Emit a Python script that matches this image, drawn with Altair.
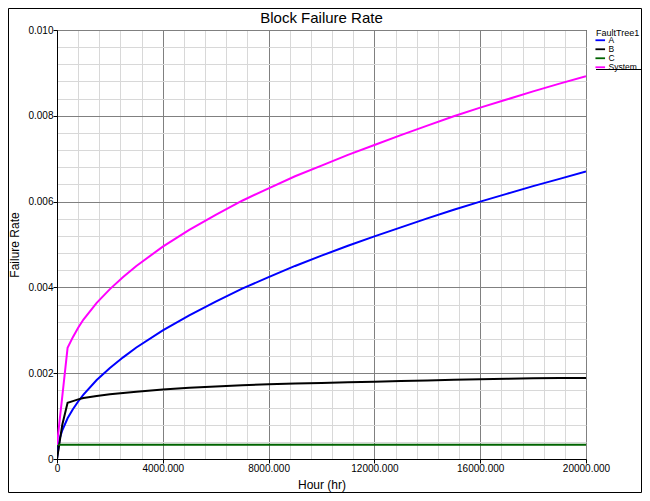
import altair as alt
import pandas as pd

hours = [0, 100, 200, 400, 600, 800, 1000, 1500, 2000, 2500, 3000, 4000, 5000, 6000,
         7000, 8000, 9000, 10000, 11000, 12000, 13000, 14000, 15000, 16000, 17000,
         18000, 19000, 20000]
rate_a = [0, 0.000474, 0.00067, 0.00095, 0.00116, 0.00134, 0.00150, 0.00184, 0.00212,
          0.00237, 0.00260, 0.00300, 0.00335, 0.00367, 0.00397, 0.00424, 0.00450,
          0.00474, 0.00497, 0.00519, 0.00540, 0.00561, 0.00581, 0.00600, 0.00618,
          0.00636, 0.00653, 0.00670]
rate_b = [0, 0.00040, 0.00080, 0.00131, 0.00135, 0.00139, 0.00142, 0.00147, 0.00151,
          0.00154, 0.00157, 0.00162, 0.00166, 0.00169, 0.00172, 0.00174, 0.00176,
          0.00177, 0.00179, 0.00180, 0.00182, 0.00183, 0.00185, 0.00186, 0.00187,
          0.00188, 0.00189, 0.00189]
rate_c = [0.00033] * len(hours)
rate_sys = [0.00033, 0.00090, 0.00146, 0.00259, 0.00284, 0.00306, 0.00325, 0.00364,
            0.00396, 0.00424, 0.00450, 0.00495, 0.00534, 0.00569, 0.00602, 0.00631,
            0.00659, 0.00684, 0.00709, 0.00732, 0.00755, 0.00777, 0.00799, 0.00819,
            0.00838, 0.00857, 0.00875, 0.00892]
series_names = ["A", "B", "C", "System"]
series_colors = ["#0000ff", "#000000", "#006400", "#ff00ff"]

chart_title = "Block Failure Rate"

x_ticks = [0, 800, 1600, 2400, 3200, 4000, 4800, 5600, 6400, 7200, 8000, 8800, 9600,
           10400, 11200, 12000, 12800, 13600, 14400, 15200, 16000, 16800, 17600,
           18400, 19200, 20000]
y_ticks = [0, 0.0004, 0.0008, 0.0012, 0.0016, 0.002, 0.0024, 0.0028, 0.0032, 0.0036,
           0.004, 0.0044, 0.0048, 0.0052, 0.0056, 0.006, 0.0064, 0.0068, 0.0072,
           0.0076, 0.008, 0.0084, 0.0088, 0.0092, 0.0096, 0.01]

rows = []
for name, vals in zip(series_names, [rate_a, rate_b, rate_c, rate_sys]):
    for h, v in zip(hours, vals):
        rows.append({"Hour": h, "Rate": v, "Series": name})
df = pd.DataFrame(rows)

FONT = "Liberation Sans"
W, H = 529, 429
PL, PT, PR, PB = 49, 22, 56, 34

x_major = "datum.value % 4000 === 0"
y_major = "round(datum.value * 10000) % 20 === 0"

x_axis = alt.Axis(
    title="Hour (hr)", values=x_ticks,
    labelExpr=x_major + " ? (datum.value === 0 ? '0' : format(datum.value, '.3f')) : ''",
    gridColor=alt.condition(x_major, alt.value("#808080"), alt.value("#d8d8d8")),
    tickColor=alt.condition(x_major, alt.value("#000000"), alt.value("transparent")),
    labelFlush=False, labelOverlap=False, titlePadding=6,
)
y_axis = alt.Axis(
    title="Failure Rate", values=y_ticks,
    labelExpr=y_major + " ? (datum.value === 0 ? '0' : format(datum.value, '.3f')) : ''",
    gridColor=alt.condition(y_major, alt.value("#808080"), alt.value("#d8d8d8")),
    tickColor=alt.condition(y_major, alt.value("#000000"), alt.value("transparent")),
    labelFlush=False, labelOverlap=False, titlePadding=6,
)

lines = alt.Chart(df).mark_line(strokeWidth=2, clip=True).encode(
    x=alt.X("Hour:Q", scale=alt.Scale(domain=[0, 20000], nice=False), axis=x_axis),
    y=alt.Y("Rate:Q", scale=alt.Scale(domain=[0, 0.01], nice=False), axis=y_axis),
    color=alt.Color(
        "Series:N",
        scale=alt.Scale(domain=series_names, range=series_colors),
        legend=alt.Legend(
            title="FaultTree1", orient="none", legendX=539, legendY=-1,
            titleFontSize=9, titleFontWeight="normal", titleFont=FONT, titlePadding=-2,
            labelFontSize=8.5, labelFont=FONT, labelOffset=4,
            symbolType="M-1.6,0H1.6", symbolStrokeWidth=1.8, symbolSize=36,
            rowPadding=0,
        ),
    ),
    order=alt.Order("Series:N"),
)

one = pd.DataFrame({"k": [0]})
legend_rule = alt.Chart(one).mark_rule(color="#000000", strokeWidth=1).encode(
    x=alt.value(539), x2=alt.value(584), y=alt.value(39.5)
)
frame = alt.Chart(one).mark_rect(fillOpacity=0, stroke="#000000", strokeWidth=1).encode(
    x=alt.value(-PL + 0.5), x2=alt.value(W + PR - 0.5),
    y=alt.value(-PT + 0.5), y2=alt.value(H + PB - 0.5),
)
title_text = alt.Chart(one).mark_text(
    font=FONT, fontSize=15, color="#000000", align="center", baseline="alphabetic"
).encode(x=alt.value(W / 2), y=alt.value(-7), text=alt.value(chart_title))

chart = alt.layer(lines, legend_rule, frame, title_text).properties(
    width=W, height=H,
    autosize=alt.AutoSizeParams(type="none"),
    padding={"left": PL, "top": PT, "right": PR, "bottom": PB},
).configure_view(
    stroke="#000000", strokeWidth=1
).configure_axis(
    labelFont=FONT, labelFontSize=10, labelColor="#000000",
    titleFont=FONT, titleFontSize=12, titleFontWeight="normal", titleColor="#000000",
    domainColor="#000000", tickSize=4, gridWidth=1, labelPadding=0,
)

chart.save("out.html", embed_options={"renderer": "svg", "actions": False})
